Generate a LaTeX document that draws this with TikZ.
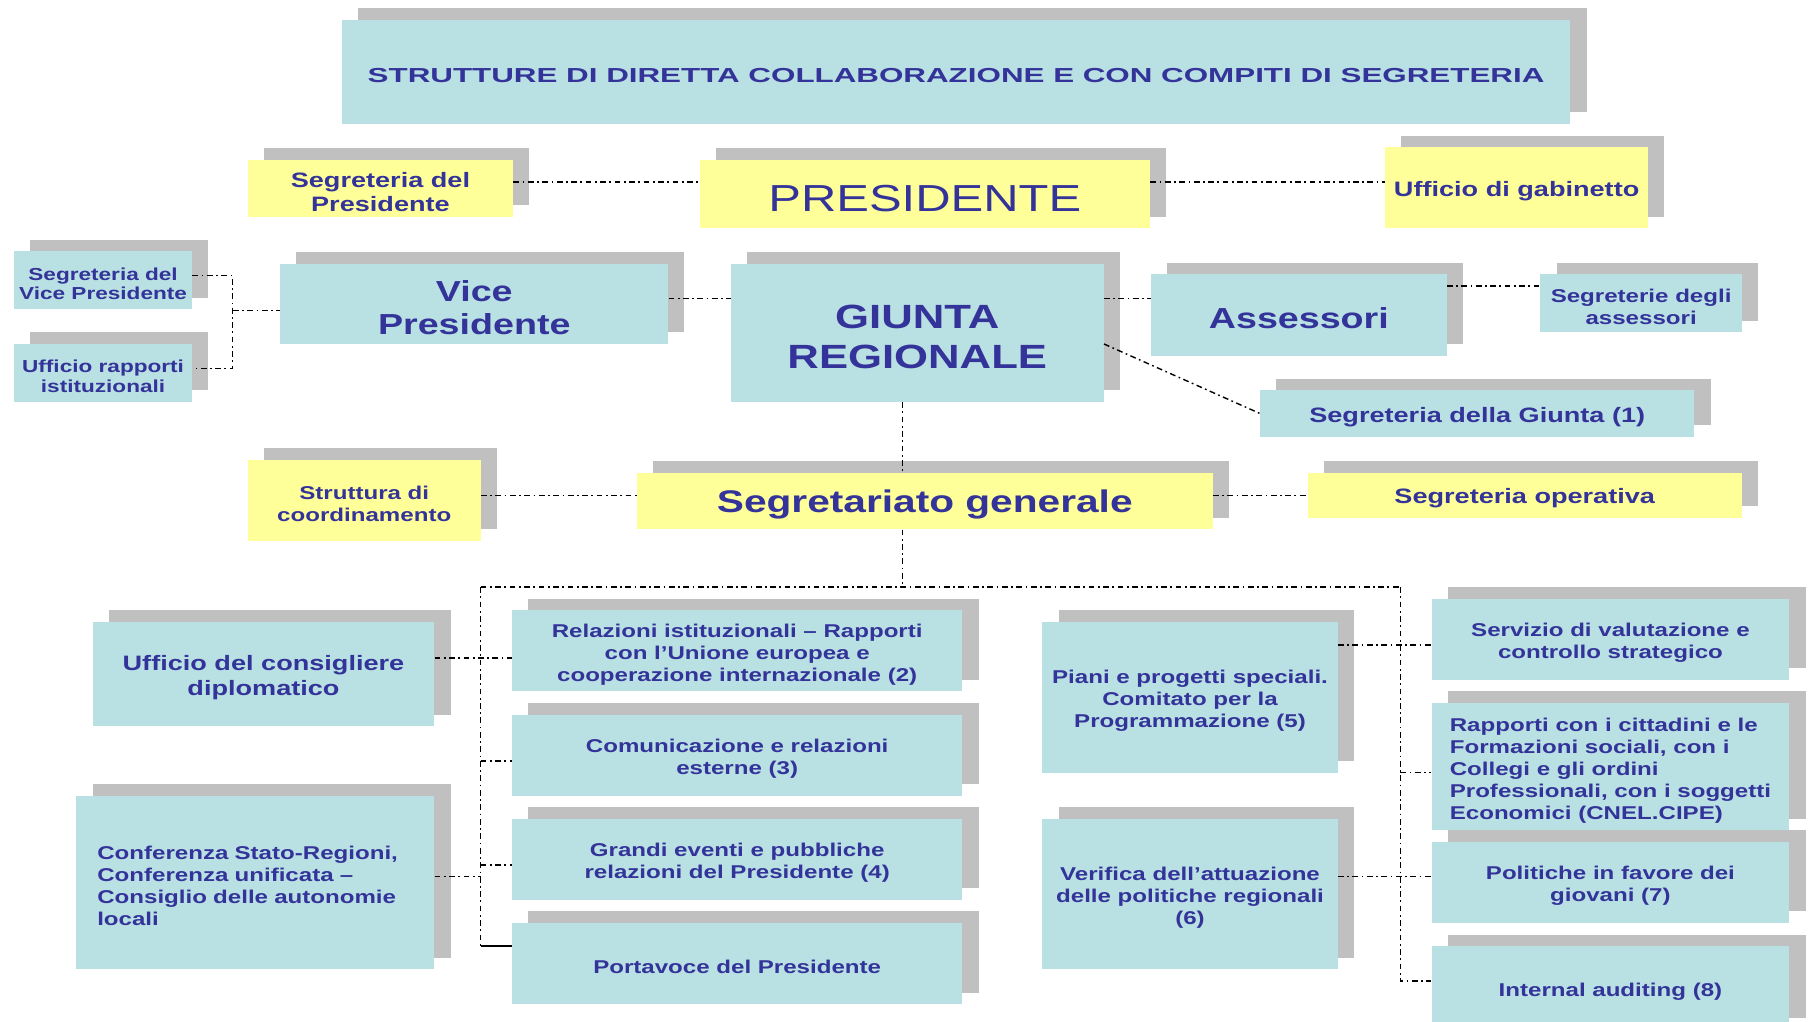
\documentclass[tikz,border=0pt]{standalone}
\usepackage{fontspec}
\usepackage{graphicx}
\setmainfont[FakeStretch=1.3]{Liberation Sans}
\usetikzlibrary{shadows}
\definecolor{txtblue}{RGB}{51,51,153}
\definecolor{boxcyan}{RGB}{185,224,227}
\definecolor{boxyellow}{RGB}{255,255,153}
\definecolor{shadowgray}{RGB}{192,192,192}
\tikzset{
  orgbase/.style={inner sep=0pt, align=center, text=txtblue,
    drop shadow={shadow xshift=14pt, shadow yshift=10pt, fill=shadowgray, opacity=1}},
  cbox/.style={orgbase, fill=boxcyan},
  ybox/.style={orgbase, fill=boxyellow},
  fsz/.style n args={2}{font=\bfseries\fontsize{#1pt}{#2pt}\selectfont},
  conn/.style={line width=1.2pt, dash pattern=on 5pt off 3pt on 1.5pt off 3pt},
  solidconn/.style={line width=1.6pt}
}
% top strut: lowers the text block by about 3pt inside its box
\newcommand\tp{\rule{0pt}{\dimexpr0.73em+6pt\relax}}
\newcommand\obox[7]{\node[#2, minimum width={(#5-#3)*1pt}, minimum height={(#6-#4)*1pt}] (#1) at ({(#3+#5)/2},{(#4+#6)/2}) {\tp#7};}
\begin{document}
\begin{tikzpicture}[x=1pt,y=-1pt]
\fill[white] (0,0) rectangle (1568,882);
\useasboundingbox (0,0) rectangle (1568,882);

% title
\obox{title}{cbox, fsz={17.5}{20}}{295}{17}{1356}{107}
  {\resizebox{1016pt}{\height}{STRUTTURE DI DIRETTA COLLABORAZIONE E CON COMPITI DI SEGRETERIA}}

% row 1
\obox{segp}{ybox, fsz={18}{21}}{214}{138}{443}{187}{Segreteria del\\Presidente}
\obox{pres}{ybox, font=\fontsize{32.5pt}{36pt}\selectfont}{604}{138}{993}{197}{PRESIDENTE}
\obox{gab}{ybox, fsz={18}{21}}{1196}{127}{1423}{197}{Ufficio di gabinetto}

% row 2
\obox{svp}{cbox, fsz={15}{17}}{12}{217}{166}{267}{Segreteria del\\Vice Presidente}
\obox{urap}{cbox, fsz={15}{17}}{12}{297}{166}{347}{Ufficio rapporti\\istituzionali}
\obox{vice}{cbox, fsz={25}{29}}{242}{228}{577}{297}{Vice\\Presidente}
\obox{giunta}{cbox, fsz={29}{35}}{631}{228}{953}{347}{GIUNTA\\REGIONALE}
\obox{ass}{cbox, fsz={25}{29}}{994}{237}{1249}{307}{Assessori}
\obox{sass}{cbox, fsz={16}{19}}{1330}{237}{1504}{287}{Segreterie degli\\assessori}
\obox{sgiunta}{cbox, fsz={18}{21}}{1088}{337}{1463}{377}{Segreteria della Giunta (1)}

% row 3
\obox{strut}{ybox, fsz={16}{19}}{214}{397}{415}{467}{Struttura di\\coordinamento}
\obox{segr}{ybox, fsz={27}{31}}{550}{408}{1047}{457}{Segretariato generale}
\obox{sop}{ybox, fsz={18}{21}}{1129}{408}{1504}{447}{Segreteria operativa}

% left column
\obox{ucd}{cbox, fsz={18}{21}}{80}{537}{375}{627}{Ufficio del consigliere\\diplomatico}
\obox{conf}{cbox, fsz={16}{19}, text width=273pt, align=left}{66}{687}{375}{837}
  {Conferenza Stato-Regioni,\\Conferenza unificata –\\Consiglio delle autonomie\\locali}

% middle column
\obox{rel}{cbox, fsz={16}{19}}{442}{527}{831}{597}
  {Relazioni istituzionali – Rapporti\\con l’Unione europea e\\cooperazione internazionale (2)}
\obox{com}{cbox, fsz={16}{19}}{442}{617}{831}{687}{Comunicazione e relazioni\\esterne (3)}
\obox{gra}{cbox, fsz={16}{19}}{442}{707}{831}{777}{Grandi eventi e pubbliche\\relazioni del Presidente (4)}
\obox{port}{cbox, fsz={16}{19}}{442}{797}{831}{867}{Portavoce del Presidente}

% right-middle column
\obox{piani}{cbox, fsz={16}{19}}{900}{537}{1155}{667}
  {Piani e progetti speciali.\\Comitato per la\\Programmazione (5)}
\obox{verif}{cbox, fsz={16}{19}}{900}{707}{1155}{837}
  {Verifica dell’attuazione\\delle politiche regionali\\(6)}

% right column
\obox{serv}{cbox, fsz={16}{19}}{1236}{517}{1545}{587}{Servizio di valutazione e\\controllo strategico}
\obox{rapp}{cbox, fsz={16}{19}, align=left}{1236}{607}{1545}{717}
  {Rapporti con i cittadini e le\\Formazioni sociali, con i\\Collegi e gli ordini\\Professionali, con i soggetti\\Economici (CNEL.CIPE)}
\obox{pol}{cbox, fsz={16}{19}}{1236}{727}{1545}{797}{Politiche in favore dei\\giovani (7)}
\obox{intaud}{cbox, fsz={16}{19}}{1236}{817}{1545}{889}{Internal auditing (8)}

% connectors
\coordinate (vpj) at (201,268);
\coordinate (bus) at (779,507);
\coordinate (busl) at (415,507);
\coordinate (busr) at (1209,507);

\draw[conn] (segp.east |- 0,157) -- (pres.west |- 0,157);
\draw[conn] (pres.east |- 0,157) -- (gab.west |- 0,157);
\draw[conn] (svp.east |- 0,238) -| (vpj) |- (urap.east |- 0,318);
\draw[conn] (vpj) -- (vice.west |- vpj);
\draw[conn] (vice.east |- 0,258) -- (giunta.west |- 0,258);
\draw[conn] (giunta.east |- 0,258) -- (ass.west |- 0,258);
\draw[conn] (ass.east |- 0,247) -- (sass.west |- 0,247);
\draw[conn] (giunta.east |- 0,297) -- (sgiunta.west);
\draw[conn] (giunta.south -| bus) -- (segr.north -| bus);
\draw[conn] (segr.south -| bus) -- (bus);
\draw[conn] (strut.east |- 0,428) -- (segr.west |- 0,428);
\draw[conn] (segr.east |- 0,428) -- (sop.west |- 0,428);

\draw[conn] (busl) -- (busr);
\draw[conn] (busl) -- (busl |- 0,817);
\draw[solidconn] (busl |- 0,817) -- (port.west |- 0,817);
\draw[conn] (ucd.east |- 0,568) -- (rel.west |- 0,568);
\draw[conn] (busl |- 0,657) -- (com.west |- 0,657);
\draw[conn] (busl |- 0,747) -- (gra.west |- 0,747);
\draw[conn] (conf.east |- 0,757) -- (busl |- 0,757);

\draw[conn] (busr) -- (busr |- 0,847) -- (intaud.west |- 0,847);
\draw[conn] (piani.east |- 0,557) -- (serv.west |- 0,557);
\draw[conn] (busr |- 0,667) -- (rapp.west |- 0,667);
\draw[conn] (verif.east |- 0,757) -- (pol.west |- 0,757);
\end{tikzpicture}
\end{document}
